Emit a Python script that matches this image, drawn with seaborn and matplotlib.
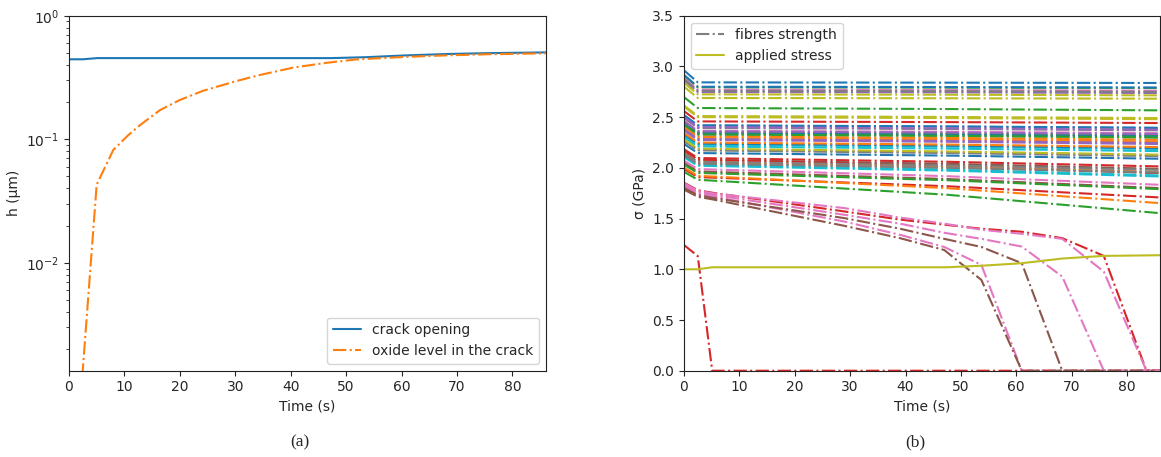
import numpy as np
import pandas as pd
import matplotlib
matplotlib.use("Agg")
import matplotlib.pyplot as plt
import seaborn as sns
from matplotlib.lines import Line2D

# ---------------- (a) crack opening and oxide level ----------------
time_crack = [0.0, 2.5, 5.1, 47.5, 53.7, 61.0, 68.3, 75.8, 83.5, 86.0]
crack_opening = [0.444, 0.444, 0.454, 0.454, 0.462, 0.478, 0.490, 0.498, 0.503, 0.505]

time_oxide = [2.4, 5.0, 8.0, 10.7, 12.8, 16.4, 20.0, 24.2, 30.2, 34.4, 40.4, 46.5,
              51.9, 61.0, 68.3, 75.8, 86.0]
oxide_level = [1.2e-3, 0.043, 0.082, 0.108, 0.130, 0.172, 0.208, 0.247, 0.296, 0.331,
               0.380, 0.416, 0.443, 0.465, 0.478, 0.488, 0.496]

# ---------------- (b) fibre strengths and applied stress ----------------
# intact fibres, sampled at these times (GPa)
time_fibre = [0.0, 2.5, 47.5, 86.0]
fibre_t0 = [2.962, 2.448, 2.910, 2.560, 2.863, 2.271, 2.886, 2.875, 2.839, 2.448,
            2.917, 2.406, 2.698, 2.184, 2.517, 2.167, 2.465, 2.493, 2.801, 2.321,
            2.521, 2.391, 2.448, 2.167, 2.500, 2.130, 2.071, 2.427, 2.616, 2.303,
            2.438, 2.146, 2.427, 1.989, 2.458, 2.047, 2.263, 2.604, 2.115,
            2.333, 2.002, 2.031, 2.379, 2.146, 2.280, 2.105,
            2.236, 2.344, 1.961, 2.370, 2.125]
fibre_t1 = [2.843, 2.350, 2.794, 2.458, 2.748, 2.180, 2.771, 2.760, 2.725, 2.350,
            2.800, 2.310, 2.590, 2.097, 2.416, 2.080, 2.366, 2.393, 2.689, 2.228,
            2.420, 2.295, 2.350, 2.080, 2.400, 2.045, 1.988, 2.330, 2.511, 2.211,
            2.340, 2.060, 2.330, 1.909, 2.360, 1.965, 2.172, 2.500, 2.030,
            2.240, 1.922, 1.950, 2.284, 2.060, 2.189, 2.021,
            2.146, 2.250, 1.883, 2.275, 2.040]
fibre_mid = [2.840, 2.336, 2.791, 2.451, 2.744, 2.155, 2.767, 2.756, 2.721, 2.337,
             2.797, 2.295, 2.580, 2.060, 2.406, 2.040, 2.356, 2.383, 2.686, 2.209,
             2.409, 2.279, 2.336, 2.021, 2.389, 2.002, 1.918, 2.316, 2.502, 2.190,
             2.326, 2.015, 2.316, 1.819, 2.348, 1.890, 2.146, 2.491, 1.982,
             2.220, 1.800, 1.878, 2.266, 2.024, 2.162, 1.973,
             2.121, 2.230, 1.735, 2.257, 2.002]
fibre_end = [2.837, 2.318, 2.788, 2.442, 2.738, 2.125, 2.761, 2.750, 2.715, 2.320,
             2.792, 2.277, 2.567, 2.014, 2.393, 1.990, 2.343, 2.370, 2.682, 2.186,
             2.395, 2.260, 2.318, 1.949, 2.376, 1.950, 1.833, 2.300, 2.491, 2.165,
             2.308, 1.960, 2.300, 1.708, 2.333, 1.800, 2.115, 2.480, 1.925,
             2.195, 1.652, 1.790, 2.245, 1.980, 2.130, 1.915,
             2.090, 2.205, 1.553, 2.235, 1.955]

# broken fibres, sampled at these times (GPa)
time_broken = [0.0, 2.5, 5.1, 29.0, 39.0, 47.0, 53.7, 61.0, 68.3, 75.8, 83.5, 86.0]
broken_1 = [1.818, 1.745, 1.720, 1.470, 1.340, 1.220, 1.043, 0.0, 0.0, 0.0, 0.0, 0.0]
broken_2 = [1.240, 1.130, 0.0, 0.0, 0.0, 0.0, 0.0, 0.0, 0.0, 0.0, 0.0, 0.0]
broken_3 = [1.786, 1.715, 1.690, 1.428, 1.307, 1.190, 0.895, 0.0, 0.0, 0.0, 0.0, 0.0]
broken_4 = [1.833, 1.760, 1.735, 1.537, 1.450, 1.360, 1.300, 1.224, 0.928, 0.0, 0.0, 0.0]
broken_5 = [1.854, 1.780, 1.755, 1.570, 1.490, 1.440, 1.400, 1.370, 1.307, 1.132, 0.0, 0.0]
broken_6 = [1.802, 1.730, 1.705, 1.504, 1.400, 1.300, 1.220, 1.060, 0.0, 0.0, 0.0, 0.0]
broken_7 = [1.849, 1.775, 1.750, 1.603, 1.510, 1.450, 1.390, 1.350, 1.300, 0.977, 0.0, 0.0]
broken_fibres = [broken_1, broken_2, broken_3, broken_4, broken_5, broken_6, broken_7]
# place of each broken fibre in the drawing sequence
broken_rank = [36, 43, 45, 46, 53, 55, 56]
n_fibres = 58

time_applied = [0.0, 2.5, 5.1, 47.5, 53.7, 61.0, 68.3, 75.8, 86.0]
applied_stress = [1.0, 1.0, 1.02, 1.02, 1.035, 1.06, 1.106, 1.132, 1.139]

# ---------------- long-form table of all fibres ----------------
rows = []
k_int = 0
k_brk = 0
for i in range(n_fibres):
    name = f"f{i:02d}"
    if i in broken_rank:
        vals = broken_fibres[k_brk]
        for t, v in zip(time_broken, vals):
            rows.append((name, t, v))
        k_brk += 1
    else:
        vals = [fibre_t0[k_int], fibre_t1[k_int], fibre_mid[k_int], fibre_end[k_int]]
        for t, v in zip(time_fibre, vals):
            rows.append((name, t, v))
        k_int += 1
fibres = pd.DataFrame(rows, columns=["fibre", "time", "strength"])
fibre_names = [f"f{i:02d}" for i in range(n_fibres)]

# ---------------- style ----------------
sns.set_style("ticks")
plt.rcParams["font.family"] = ["DejaVu Sans"]
plt.rcParams["font.size"] = 10
plt.rcParams["mathtext.fontset"] = "dejavusans"
tab10 = sns.color_palette("tab10")
lw = 1.5

fig = plt.figure(figsize=(11.61, 4.57), dpi=100)
ax_a = fig.add_axes([0.0594, 0.1888, 0.4106, 0.7768])
ax_b = fig.add_axes([0.5891, 0.1888, 0.4103, 0.7768])

# (a)
ax_a.set_yscale("log")
sns.lineplot(x=time_crack, y=crack_opening, ax=ax_a, color=tab10[0], lw=lw,
             label="crack opening")
sns.lineplot(x=time_oxide, y=oxide_level, ax=ax_a, color=tab10[1], lw=lw,
             linestyle="-.", label="oxide level in the crack")
ax_a.set_xlim(0, 86)
ax_a.set_ylim(1.34e-3, 1.0)
ax_a.set_xticks(np.arange(0, 81, 10))
ax_a.set_xlabel("Time (s)")
ax_a.set_ylabel("h (µm)")
ax_a.legend(loc="lower right", fontsize=10)

# (b)
palette = [tab10[i % 10] for i in range(n_fibres)]
sns.lineplot(data=fibres, x="time", y="strength", hue="fibre", hue_order=fibre_names,
             palette=palette, estimator=None, sort=False, linestyle="-.", lw=lw,
             legend=False, ax=ax_b)
sns.lineplot(x=time_applied, y=applied_stress, ax=ax_b, color=tab10[8], lw=lw,
             legend=False)
ax_b.set_xlim(0, 86)
ax_b.set_ylim(0, 3.5)
ax_b.set_xticks(np.arange(0, 81, 10))
ax_b.set_yticks(np.arange(0, 3.51, 0.5))
ax_b.set_xlabel("Time (s)")
ax_b.set_ylabel("σ (GPa)")
handles = [Line2D([], [], color=tab10[7], lw=lw, linestyle="-."),
           Line2D([], [], color=tab10[8], lw=lw)]
ax_b.legend(handles, ["fibres strength", "applied stress"], loc="upper left", fontsize=10)

for ax in (ax_a, ax_b):
    for sp in ax.spines.values():
        sp.set_color("#222222")

fig.text(0.2584, 0.031, "(a)", family="Liberation Serif", fontsize=12.5,
         ha="center", va="center")
fig.text(0.788, 0.031, "(b)", family="Liberation Serif", fontsize=12.5,
         ha="center", va="center")

fig.savefig("out.png", dpi=100)
